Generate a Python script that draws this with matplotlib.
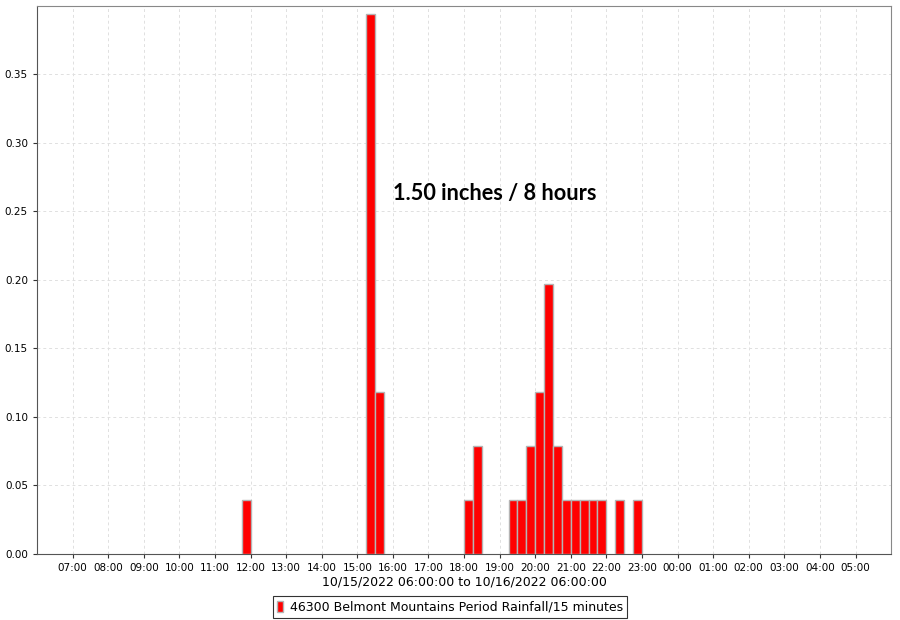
import datetime as dt
import matplotlib
matplotlib.use("Agg")
from matplotlib import pyplot as plt
import matplotlib.dates as mdates
from matplotlib.patches import Patch

# period start times (15 minute periods) and rainfall in inches
times = ["10/15 11:45", "10/15 15:15", "10/15 15:30", "10/15 18:00", "10/15 18:15",
         "10/15 19:15", "10/15 19:30", "10/15 19:45", "10/15 20:00", "10/15 20:15",
         "10/15 20:30", "10/15 20:45", "10/15 21:00", "10/15 21:15", "10/15 21:30",
         "10/15 21:45", "10/15 22:15", "10/15 22:45"]
rain = [0.039, 0.394, 0.118, 0.039, 0.079,
        0.039, 0.039, 0.079, 0.118, 0.197,
        0.079, 0.039, 0.039, 0.039, 0.039,
        0.039, 0.039, 0.039]
start = dt.datetime(2022, 10, 15, 6, 0)
end = dt.datetime(2022, 10, 16, 6, 0)
series_name = "46300 Belmont Mountains Period Rainfall/15 minutes"
xlabel = "10/15/2022 06:00:00 to 10/16/2022 06:00:00"
note = "1.50 inches / 8 hours"

t = [dt.datetime.strptime("2022/" + s, "%Y/%m/%d %H:%M") for s in times]

fig = plt.figure(figsize=(9, 6.2), dpi=100)
ax = fig.add_axes([0.0411, 0.1065, 0.949, 0.8838])

ax.bar(t, rain, width=dt.timedelta(minutes=15), align="edge",
       color="#ff0000", edgecolor="#b4b4b4", linewidth=1, zorder=3)

ax.set_xlim(start, end)
ax.set_ylim(0, 0.3996)
xt = [start + dt.timedelta(hours=h) for h in range(1, 24)]
ax.set_xticks(xt)
ax.xaxis.set_major_formatter(mdates.DateFormatter("%H:%M"))
ax.set_yticks([0, 0.05, 0.1, 0.15, 0.2, 0.25, 0.3, 0.35])
ax.set_yticklabels(["0.00", "0.05", "0.10", "0.15", "0.20", "0.25", "0.30", "0.35"])
ax.tick_params(labelsize=7.5, length=3, colors="#333333", labelcolor="black")
ax.grid(True, color="#e0e0e0", linestyle=(0, (3, 3)), linewidth=0.7, zorder=0)

for s in ["top", "right"]:
    ax.spines[s].set_color("#888888")
for s in ["left", "bottom"]:
    ax.spines[s].set_color("#555555")

ax.set_xlabel(xlabel, fontsize=9, labelpad=2)

ax.text(0.417, 0.658, note, transform=ax.transAxes, fontsize=15.7,
        fontweight="bold", family="Lato", va="center", ha="left")

leg = fig.legend([Patch(facecolor="#ff0000", edgecolor="#b4b4b4")], [series_name],
                 loc="center", bbox_to_anchor=(0.5, 0.021), fontsize=9,
                 frameon=True, fancybox=False, handlelength=0.5, handleheight=1.0,
                 handletextpad=0.5, borderpad=0.35)
leg.get_frame().set_edgecolor("black")
leg.get_frame().set_linewidth(0.8)

fig.savefig("out.png", dpi=100)
